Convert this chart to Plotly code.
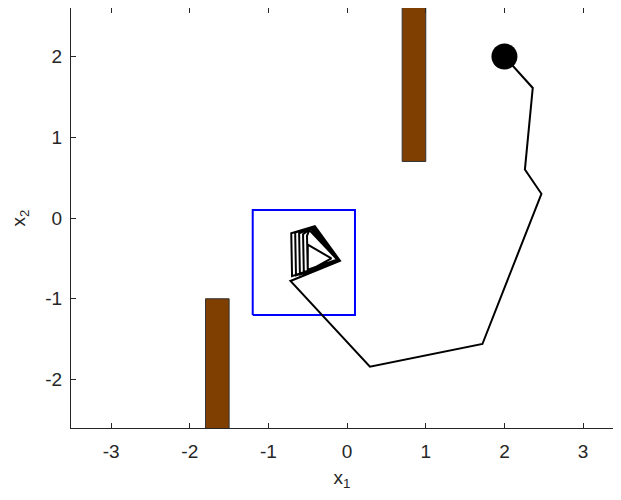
import plotly.graph_objects as go

# trajectory of x1, x2
traj_x1 = [2.00, 2.36, 2.26, 2.47, 1.72, 0.29, -0.72,
           -0.09, -0.41, -0.71, -0.70,
           -0.10, -0.43, -0.66, -0.65,
           -0.10, -0.44, -0.61, -0.60,
           -0.11, -0.46, -0.56, -0.55,
           -0.12, -0.48, -0.51, -0.50,
           -0.20, -0.50, -0.50, -0.14]
traj_x2 = [2.00, 1.61, 0.60, 0.30, -1.56, -1.84, -0.78,
           -0.53, -0.10, -0.19, -0.72,
           -0.52, -0.11, -0.18, -0.71,
           -0.53, -0.12, -0.19, -0.70,
           -0.52, -0.13, -0.20, -0.69,
           -0.52, -0.15, -0.22, -0.66,
           -0.50, -0.33, -0.64, -0.52]

# obstacles (x0, x1, y0, y1)
obstacles = [(0.7, 1.0, 0.7, 3.5), (-1.8, -1.5, -3.5, -1.0)]
# target set
target_x1 = [-1.2, 0.1]
target_x2 = [-1.2, 0.1]

axis_col = "#262626"
fig = go.Figure()

for x0, x1, y0, y1 in obstacles:
    fig.add_trace(go.Scatter(
        x=[x0, x1, x1, x0, x0], y=[y0, y0, y1, y1, y0],
        mode="lines", fill="toself", fillcolor="#7f3f00",
        line=dict(color="#333333", width=1), hoverinfo="skip"
    ))

fig.add_trace(go.Scatter(
    x=[target_x1[0], target_x1[1], target_x1[1], target_x1[0], target_x1[0]],
    y=[target_x2[0], target_x2[0], target_x2[1], target_x2[1], target_x2[0]],
    mode="lines", line=dict(color="#0000ff", width=2)
))

fig.add_trace(go.Scatter(
    x=traj_x1, y=traj_x2, mode="lines",
    line=dict(color="black", width=2)
))

fig.add_trace(go.Scatter(
    x=traj_x1[:1], y=traj_x2[:1], mode="markers",
    marker=dict(color="black", size=26)
))

axis_common = dict(
    showgrid=False, zeroline=False, showline=True, linecolor=axis_col,
    linewidth=1, ticks="inside", ticklen=5,
    tickcolor=axis_col, tickfont=dict(family="Liberation Sans", size=19, color=axis_col),
    automargin=False,
)

# right edge of the original axes lies just past the window, so cut the range there
fig.update_xaxes(range=[-3.51, 3.38], tickvals=[-3, -2, -1, 0, 1, 2, 3],
                 ticktext=["-3", "-2", "-1", "0", "1", "2", "3"],
                 ticklabelstandoff=6, mirror="ticks",
                 title=dict(text="x<sub>1</sub>", standoff=9,
                            font=dict(family="Liberation Sans", size=19, color=axis_col)),
                 **axis_common)
fig.update_yaxes(range=[-2.6, 2.6], tickvals=[-2, -1, 0, 1, 2],
                 ticktext=["-2", "-1", "0", "1", "2"],
                 ticklabelstandoff=4, mirror=False,
                 title=dict(text="x<sub>2</sub>", standoff=28,
                            font=dict(family="Liberation Sans", size=19, color=axis_col)),
                 **axis_common)

# the page body adds 8px round the figure; keep it inside the window
fig.update_layout(
    width=605, height=484,
    margin=dict(l=63, r=0, t=0, b=64),
    plot_bgcolor="white", paper_bgcolor="white",
    showlegend=False,
)

fig.write_html("out.html")
